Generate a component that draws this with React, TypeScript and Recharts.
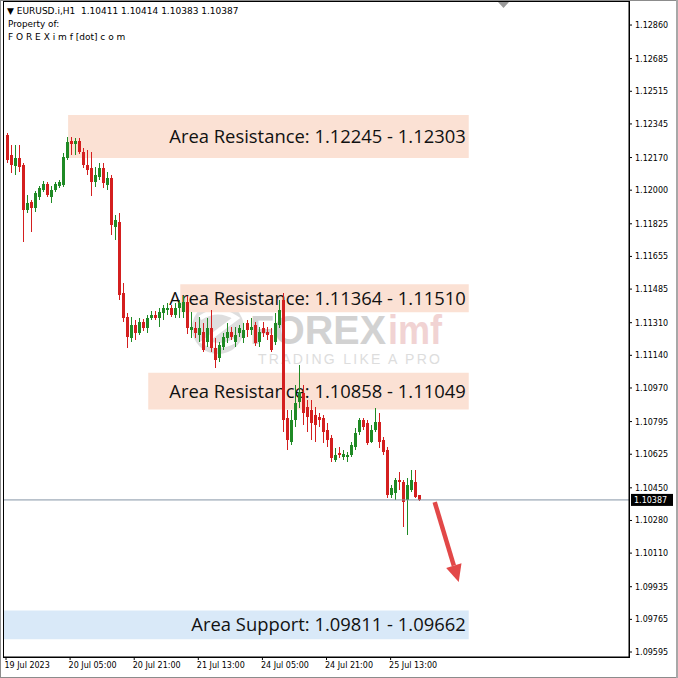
import React from 'react';
import { ComposedChart, Bar, XAxis, YAxis, ReferenceArea, ReferenceLine } from 'recharts';

// ---- candle data (EURUSD.i, H1), bar 0 = 19 Jul 2023 13:00 ----
const opens = [
  1.12287, 1.12183, 1.12126, 1.12168, 1.12131, 1.11897, 1.11938, 1.11907, 1.11964, 1.12001,
  1.12032, 1.11964, 1.12001, 1.12022, 1.12027, 1.12168, 1.12256, 1.12240, 1.12256, 1.12199,
  1.12131, 1.12115, 1.12043, 1.12069, 1.12115, 1.12027, 1.12063, 1.11808, 1.11834, 1.11464,
  1.11340, 1.11230, 1.11298, 1.11256, 1.11314, 1.11282, 1.11334, 1.11350, 1.11334, 1.11360,
  1.11376, 1.11386, 1.11350, 1.11386, 1.11366, 1.11418, 1.11272, 1.11282, 1.11246, 1.11262,
  1.11209, 1.11282, 1.11178, 1.11126, 1.11183, 1.11230, 1.11262, 1.11209, 1.11256, 1.11230,
  1.11308, 1.11272, 1.11298, 1.11209, 1.11282, 1.11262, 1.11246, 1.11209, 1.11298, 1.11428,
  1.10814, 1.10689, 1.10803, 1.10897, 1.10944, 1.10871, 1.10855, 1.10829, 1.10819, 1.10814,
  1.10751, 1.10710, 1.10595, 1.10631, 1.10611, 1.10611, 1.10621, 1.10663, 1.10741, 1.10803,
  1.10788, 1.10689, 1.10751, 1.10793, 1.10699, 1.10647, 1.10413, 1.10423, 1.10491, 1.10480,
  1.10387, 1.10439, 1.10480, 1.10411,
];
const highs = [
  1.12298, 1.12235, 1.12235, 1.12235, 1.12141, 1.11975, 1.11949, 1.11996, 1.12022, 1.12048,
  1.12043, 1.12022, 1.12043, 1.12053, 1.12194, 1.12277, 1.12277, 1.12272, 1.12272, 1.12220,
  1.12209, 1.12199, 1.12121, 1.12141, 1.12141, 1.12095, 1.12079, 1.11871, 1.11881, 1.11517,
  1.11360, 1.11340, 1.11324, 1.11334, 1.11329, 1.11350, 1.11371, 1.11371, 1.11386, 1.11402,
  1.11413, 1.11402, 1.11413, 1.11428, 1.11449, 1.11449, 1.11366, 1.11314, 1.11340, 1.11308,
  1.11334, 1.11376, 1.11230, 1.11209, 1.11256, 1.11308, 1.11288, 1.11288, 1.11298, 1.11308,
  1.11324, 1.11334, 1.11314, 1.11288, 1.11314, 1.11288, 1.11282, 1.11360, 1.11428, 1.11464,
  1.10855, 1.10855, 1.10985, 1.11090, 1.10985, 1.10907, 1.10907, 1.10871, 1.10840, 1.10829,
  1.10788, 1.10725, 1.10658, 1.10663, 1.10647, 1.10637, 1.10689, 1.10762, 1.10814, 1.10814,
  1.10803, 1.10777, 1.10866, 1.10840, 1.10715, 1.10663, 1.10465, 1.10501, 1.10533, 1.10491,
  1.10501, 1.10543, 1.10543, 1.10414,
];
const lows = [
  1.12141, 1.12089, 1.12079, 1.12095, 1.11730, 1.11881, 1.11782, 1.11886, 1.11949, 1.11991,
  1.11964, 1.11933, 1.11991, 1.12011, 1.12017, 1.12157, 1.12183, 1.12183, 1.12188, 1.12115,
  1.12079, 1.11970, 1.12017, 1.12053, 1.12011, 1.12001, 1.11767, 1.11741, 1.11428, 1.11314,
  1.11178, 1.11209, 1.11220, 1.11246, 1.11267, 1.11256, 1.11324, 1.11324, 1.11288, 1.11324,
  1.11350, 1.11340, 1.11334, 1.11334, 1.11334, 1.11251, 1.11230, 1.11230, 1.11209, 1.11157,
  1.11183, 1.11157, 1.11074, 1.11105, 1.11168, 1.11204, 1.11220, 1.11183, 1.11235, 1.11204,
  1.11235, 1.11246, 1.11189, 1.11183, 1.11235, 1.11220, 1.11157, 1.11194, 1.11282, 1.10741,
  1.10647, 1.10673, 1.10767, 1.10866, 1.10777, 1.10741, 1.10699, 1.10689, 1.10767, 1.10684,
  1.10663, 1.10585, 1.10585, 1.10605, 1.10595, 1.10585, 1.10611, 1.10647, 1.10725, 1.10751,
  1.10673, 1.10684, 1.10741, 1.10658, 1.10621, 1.10397, 1.10397, 1.10387, 1.10439, 1.10246,
  1.10205, 1.10428, 1.10397, 1.10383,
];
const closes = [
  1.12157, 1.12131, 1.12168, 1.12121, 1.11897, 1.11933, 1.11907, 1.11985, 1.12011, 1.12032,
  1.11975, 1.12001, 1.12032, 1.12043, 1.12173, 1.12251, 1.12240, 1.12256, 1.12199, 1.12131,
  1.12105, 1.12043, 1.12079, 1.12115, 1.12037, 1.12063, 1.11819, 1.11845, 1.11454, 1.11334,
  1.11235, 1.11298, 1.11256, 1.11314, 1.11282, 1.11334, 1.11350, 1.11334, 1.11366, 1.11386,
  1.11386, 1.11350, 1.11386, 1.11413, 1.11418, 1.11282, 1.11288, 1.11256, 1.11282, 1.11168,
  1.11282, 1.11178, 1.11116, 1.11194, 1.11235, 1.11262, 1.11235, 1.11246, 1.11282, 1.11272,
  1.11272, 1.11288, 1.11204, 1.11262, 1.11256, 1.11246, 1.11168, 1.11308, 1.11376, 1.10803,
  1.10699, 1.10803, 1.10892, 1.10949, 1.10840, 1.10819, 1.10788, 1.10777, 1.10803, 1.10741,
  1.10699, 1.10605, 1.10621, 1.10621, 1.10626, 1.10621, 1.10673, 1.10736, 1.10803, 1.10767,
  1.10684, 1.10751, 1.10793, 1.10689, 1.10637, 1.10413, 1.10449, 1.10491, 1.10480, 1.10376,
  1.10465, 1.10491, 1.10402, 1.10387,
];

const TOTAL_SLOTS = 156; // includes the empty chart shift on the right

const xTickIndex = [0, 16, 32, 48, 64, 80, 96];
const xTickLabels = ['19 Jul 2023', '20 Jul 05:00', '20 Jul 21:00', '21 Jul 13:00', '24 Jul 05:00', '24 Jul 21:00', '25 Jul 13:00'];

const yTicks = [
  1.1286, 1.12685, 1.12515, 1.12345, 1.1217, 1.12, 1.11825, 1.11655, 1.11485, 1.1131,
  1.1114, 1.1097, 1.10795, 1.10625, 1.1045, 1.1028, 1.1011, 1.09935, 1.09765, 1.09595,
];
const yDomain = [1.09569, 1.1298];

const zoneText = [
  'Area Resistance: 1.12245 - 1.12303',
  'Area Resistance: 1.11364 - 1.11510',
  'Area Resistance: 1.10858 - 1.11049',
  'Area Support: 1.09811 - 1.09662',
];
const zoneHigh = [1.12391, 1.1151, 1.11049, 1.09811];
const zoneLow = [1.12167, 1.11364, 1.10858, 1.09662];
const zoneFrom = [16, 44, 36, 0];
const zoneTo = [115, 115, 115, 115];
const zoneFill = ['#fbe1d4', '#fbe1d4', '#fbe1d4', '#d9e9f8'];

const lastPrice = 1.10387;
const headerQuote = '1.10411 1.10414 1.10383 1.10387';

const arrowX = [107, 113];
const arrowY = [1.10376, 1.0996];

const GREEN = '#1f8a25';
const RED = '#d41f1f';
const SMALL_FONT = 'DejaVu Sans';

const data = Array.from({ length: TOTAL_SLOTS }, (_, i) =>
  i < opens.length
    ? { i, range: [lows[i], highs[i]], o: opens[i], h: highs[i], l: lows[i], c: closes[i] }
    : { i, range: null }
);

const Candle = (props: any) => {
  const { x, y, width, height, payload } = props;
  if (!payload || payload.o == null || x == null) return null;
  const top = Math.min(y, y + height);
  const hh = Math.abs(height);
  const span = payload.h - payload.l;
  const k = span > 0 ? hh / span : 0;
  const py = (p: number) => top + (payload.h - p) * k;
  const up = payload.c >= payload.o;
  const color = up ? GREEN : RED;
  const bTop = py(Math.max(payload.o, payload.c));
  const bBot = py(Math.min(payload.o, payload.c));
  const cx = Math.round(x + width / 2) + 0.5;
  return (
    <g>
      <line x1={cx} x2={cx} y1={top} y2={top + hh} stroke={color} strokeWidth={1} shapeRendering="crispEdges" />
      <rect x={cx - 1.5} y={bTop} width={3} height={Math.max(1, bBot - bTop)} fill={color} shapeRendering="crispEdges" />
    </g>
  );
};

const XTick = (props: any) => {
  const { x, y, payload } = props;
  const k = xTickIndex.indexOf(payload.value);
  if (k < 0) return null;
  return (
    <text x={x - 1.5} y={y + 6} fontSize={8} fontFamily={SMALL_FONT} fill="#000" textAnchor="start">
      {xTickLabels[k]}
    </text>
  );
};

const YTick = (props: any) => {
  const { x, y, payload } = props;
  return (
    <text x={x} y={y + 3} fontSize={8} fontFamily={SMALL_FONT} fill="#000" textAnchor="start">
      {Number(payload.value).toFixed(5)}
    </text>
  );
};

const makeZoneLabel = (text: string) => (props: any) => {
  const vb = props.viewBox || {};
  const { x = 0, y = 0, width = 0, height = 0 } = vb;
  return (
    <text
      x={x + width - 3}
      y={y + height / 2}
      dy="0.36em"
      textAnchor="end"
      fontSize={18.4}
      fontFamily="Open Sans"
      fill="#111"
    >
      {text}
    </text>
  );
};

const PriceTag = (props: any) => {
  const vb = props.viewBox || {};
  const { x = 0, y = 0, width = 0 } = vb;
  const left = x + width + 2;
  return (
    <g>
      <rect x={left} y={y - 6} width={42} height={12} fill="#000" />
      <text x={left + 3} y={y + 3} fontSize={8} fontFamily={SMALL_FONT} fill="#fff">
        {lastPrice.toFixed(5)}
      </text>
    </g>
  );
};

const ArrowShape = (props: any) => {
  const { x1, y1, x2, y2 } = props;
  if ([x1, y1, x2, y2].some((v) => v == null || isNaN(v))) return null;
  const ang = Math.atan2(y2 - y1, x2 - x1);
  const headLen = 17;
  const headW = 8;
  const bx = x2 - headLen * Math.cos(ang);
  const by = y2 - headLen * Math.sin(ang);
  const px = -Math.sin(ang);
  const py = Math.cos(ang);
  const pts = `${x2},${y2} ${bx + px * headW},${by + py * headW} ${bx - px * headW},${by - py * headW}`;
  return (
    <g>
      <line x1={x1} y1={y1} x2={bx} y2={by} stroke="#e24848" strokeWidth={4.5} />
      <polygon points={pts} fill="#e24848" />
    </g>
  );
};

export default function App() {
  return (
    <div style={{ position: 'absolute', left: 0, top: 0, width: 678, height: 678, background: '#fff', overflow: 'hidden' }}>
      {/* watermark behind the chart */}
      <svg width={678} height={678} style={{ position: 'absolute', left: 0, top: 0 }}>
        <circle cx={218} cy={328} r={26} fill="#dedede" />
        <path d="M200 318 Q218 306 236 318 L204 342 Q220 350 236 340" stroke="#fff" strokeWidth={5} fill="none" />
        <text x={250} y={344} fontSize={40} fontWeight="bold" fontFamily="Liberation Sans" fill="#d2d2d2" textLength={136} lengthAdjust="spacingAndGlyphs">
          FOREX
        </text>
        <text x={388} y={344} fontSize={40} fontWeight="bold" fontFamily="Liberation Sans" fill="#f1d3d3" textLength={54} lengthAdjust="spacingAndGlyphs">
          imf
        </text>
        <text x={258} y={364} fontSize={14} fontFamily="Liberation Sans" fill="#dddddd" textLength={182} lengthAdjust="spacing">
          TRADING LIKE A PRO
        </text>
      </svg>

      <div style={{ position: 'absolute', left: 0, top: 0 }}>
        <ComposedChart width={678} height={678} data={data} margin={{ top: 2, right: 0, bottom: 0, left: 4 }} barCategoryGap={0}>
          <XAxis
            dataKey="i"
            type="category"
            ticks={xTickIndex}
            interval={0}
            height={21}
            tick={<XTick />}
            tickSize={3}
            tickLine={{ stroke: '#000' }}
            axisLine={{ stroke: '#000' }}
          />
          <YAxis
            orientation="right"
            width={49}
            type="number"
            domain={yDomain}
            allowDataOverflow
            ticks={yTicks}
            interval={0}
            tick={<YTick />}
            tickSize={3}
            tickMargin={3}
            tickLine={{ stroke: '#000' }}
            axisLine={{ stroke: '#000' }}
          />
          {zoneText.map((t, k) => (
            <ReferenceArea
              key={'z' + k}
              x1={zoneFrom[k]}
              x2={zoneTo[k]}
              y1={zoneLow[k]}
              y2={zoneHigh[k]}
              fill={zoneFill[k]}
              fillOpacity={1}
              stroke="none"
              ifOverflow="visible"
            />
          ))}
          <ReferenceLine y={lastPrice} stroke="#8494a6" strokeWidth={1} label={<PriceTag />} ifOverflow="visible" />
          <Bar dataKey="range" barSize={3} shape={<Candle />} isAnimationActive={false} />
          {zoneText.map((t, k) => (
            <ReferenceArea
              key={'zl' + k}
              x1={zoneFrom[k]}
              x2={zoneTo[k]}
              y1={zoneLow[k]}
              y2={zoneHigh[k]}
              fill="none"
              fillOpacity={0}
              stroke="none"
              ifOverflow="visible"
              label={makeZoneLabel(t)}
            />
          ))}
          <ReferenceLine
            segment={[
              { x: arrowX[0], y: arrowY[0] },
              { x: arrowX[1], y: arrowY[1] },
            ]}
            shape={ArrowShape}
            ifOverflow="visible"
          />
        </ComposedChart>
      </div>

      {/* header text, plot frame and window border */}
      <svg width={678} height={678} style={{ position: 'absolute', left: 0, top: 0, pointerEvents: 'none' }}>
        <rect x={3.5} y={1.5} width={626} height={656} fill="none" stroke="#000" strokeWidth={1} />
        <text x={7} y={14} fontSize={9} fontFamily={SMALL_FONT} fill="#000" style={{ whiteSpace: 'pre' }}>
          {'\u25BC EURUSD.i,H1  ' + headerQuote}
        </text>
        <text x={8} y={27} fontSize={8.8} fontFamily={SMALL_FONT} fill="#000">
          Property of:
        </text>
        <text x={8} y={40} fontSize={9} fontFamily={SMALL_FONT} fill="#000" style={{ whiteSpace: 'pre' }}>
          F O R E X i m f [dot] c o m
        </text>
        <polygon points="498,2 509,2 503.5,8" fill="#9a9a9a" />
        <rect x={0.5} y={0.5} width={677} height={677} fill="none" stroke="#8c8c8c" strokeWidth={1} />
        <rect x={676} y={0} width={2} height={678} fill="#a8a8a8" />
      </svg>
    </div>
  );
}
